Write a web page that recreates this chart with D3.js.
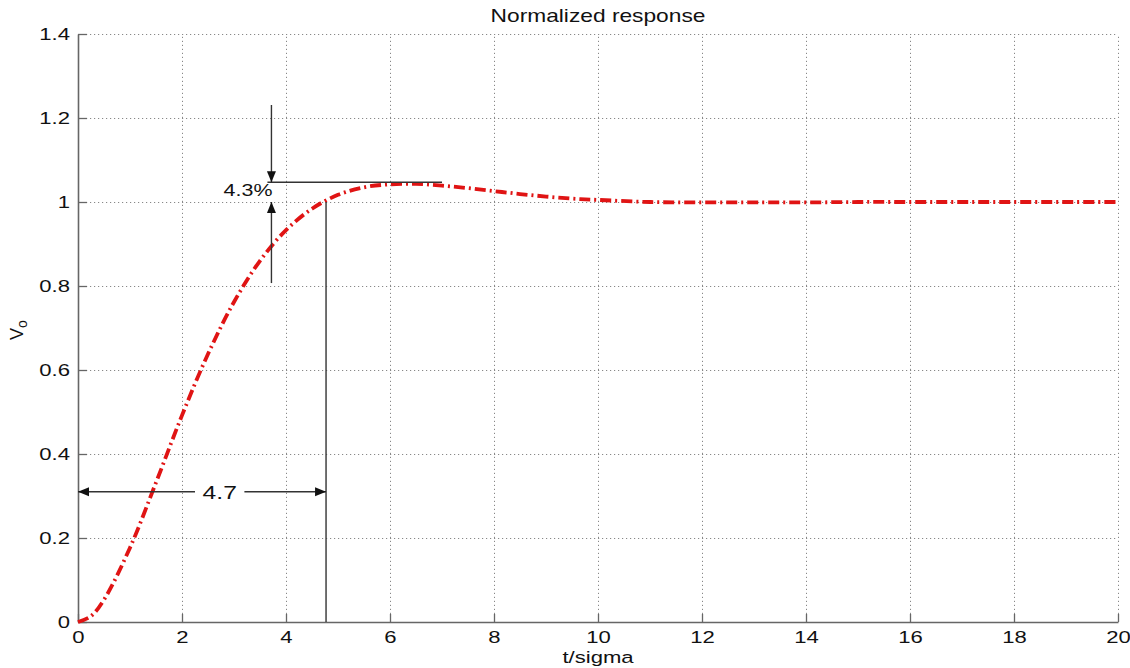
<!DOCTYPE html>
<html>
<head>
<meta charset="utf-8">
<script src="https://cdn.jsdelivr.net/npm/d3@7"></script>
<style>
  body { margin: 0; background: #fff; }
  text { font-family: "Liberation Sans", Arial, sans-serif; fill: #111; }
</style>
</head>
<body>
<svg id="chart" width="1130" height="668"></svg>
<script>
// response curve
const tValues = [0, 0.25, 0.5, 1, 1.5, 2, 2.5, 3, 3.5, 4, 4.5, 5, 5.5, 6, 6.5, 7, 7.5, 8, 8.5, 9, 9.5, 10, 11, 12, 13, 14, 15, 16, 17, 18, 19, 20];
const voValues = [0, 0.014, 0.053, 0.177, 0.332, 0.492, 0.638, 0.762, 0.860, 0.933, 0.984, 1.017, 1.035, 1.042, 1.043, 1.039, 1.033, 1.026, 1.019, 1.013, 1.008, 1.005, 1.000, 0.999, 0.999, 0.999, 1.000, 1.000, 1.000, 1.000, 1.000, 1.000];

const xTicks = [0, 2, 4, 6, 8, 10, 12, 14, 16, 18, 20];
const yTicks = [0, 0.2, 0.4, 0.6, 0.8, 1, 1.2, 1.4];

// annotations (data units)
const riseTime = 4.77, riseLabel = "4.7", riseY = 0.31, riseGap = [2.25, 3.2];
const overshootLevel = 1.047, overshootFrom = 3.72, overshootTo = 7.0, overshootLabel = "4.3%";
const downArrowFrom = 1.231, upArrowFrom = 0.807;

const margin = {top: 34, right: 12, bottom: 46, left: 78};
const W = 1130, H = 668;
const width = W - margin.left - margin.right;
const height = H - margin.top - margin.bottom;
const stretch = "scale(1.3,1)";

const svg = d3.select("#chart");
const g = svg.append("g").attr("transform", `translate(${margin.left},${margin.top})`);

const x = d3.scaleLinear().domain([0, 20]).range([0, width]);
const y = d3.scaleLinear().domain([0, 1.4]).range([height, 0]);

//grid
g.append("g")
  .attr("transform", `translate(0,${height})`)
  .call(d3.axisBottom(x).tickValues(xTicks).tickSize(-height).tickFormat(""))
  .call(s => s.select(".domain").remove())
  .selectAll("line").attr("stroke", "#888").attr("stroke-dasharray", "1.2,2.8");

g.append("g")
  .call(d3.axisLeft(y).tickValues(yTicks).tickSize(-width).tickFormat(""))
  .call(s => s.select(".domain").remove())
  .selectAll("line").attr("stroke", "#888").attr("stroke-dasharray", "1.2,2.8");

//axes
const xAxis = g.append("g")
  .attr("transform", `translate(0,${height})`)
  .call(d3.axisBottom(x).tickValues(xTicks).tickSizeInner(-8).tickSizeOuter(0).tickPadding(9).tickFormat(d3.format("d")));
const yAxis = g.append("g")
  .call(d3.axisLeft(y).tickValues(yTicks).tickSizeInner(-9).tickSizeOuter(0).tickPadding(8).tickFormat(d => d));

[xAxis, yAxis].forEach(a => {
  a.select(".domain").attr("stroke", "#666").attr("stroke-width", 1.6);
  a.selectAll(".tick line").attr("stroke", "#666").attr("stroke-width", 1.3);
  a.selectAll("text").attr("font-size", 17).attr("fill", "#111")
    .attr("font-family", "Liberation Sans, Arial, sans-serif");
});
xAxis.selectAll("text").attr("transform", stretch);
yAxis.selectAll("text").attr("x", -8 / 1.3).attr("transform", stretch);

//titles
function stretchedText(px, py, str, size, anchor) {
  return svg.append("g").attr("transform", `translate(${px},${py}) ${stretch}`)
    .append("text").attr("text-anchor", anchor).attr("font-size", size).text(str);
}
stretchedText(margin.left + width / 2, 22, "Normalized response", 17.5, "middle");
stretchedText(margin.left + width / 2, 663, "t/sigma", 17, "middle");

const ylab = svg.append("text")
  .attr("transform", "translate(23,330) rotate(-90)")
  .attr("text-anchor", "middle").attr("font-size", 18);
ylab.append("tspan").text("V");
ylab.append("tspan").attr("font-size", 14).attr("dy", 4).text("o");

//curve
const data = tValues.map((t, i) => ({t: t, v: voValues[i]}));
const line = d3.line().x(d => x(d.t)).y(d => y(d.v)).curve(d3.curveCatmullRom);
g.append("path").datum(data)
  .attr("d", line)
  .attr("fill", "none")
  .attr("stroke", "#e01414")
  .attr("stroke-width", 3.8)
  .attr("stroke-dasharray", "11,4,2,4");

//annotations
const ink = "#333";
function arrowHead(px, py, dir) {
  // dir: direction the tip points
  const L = 11, w = 4.5;
  let pts;
  if (dir === "left") pts = [[px, py], [px + L, py - w], [px + L, py + w]];
  if (dir === "right") pts = [[px, py], [px - L, py - w], [px - L, py + w]];
  if (dir === "down") pts = [[px, py], [px - w, py - L], [px + w, py - L]];
  if (dir === "up") pts = [[px, py], [px - w, py + L], [px + w, py + L]];
  g.append("path").attr("d", "M" + pts.join("L") + "Z").attr("fill", "#111");
}
function seg(x1, y1, x2, y2) {
  g.append("line").attr("x1", x1).attr("y1", y1).attr("x2", x2).attr("y2", y2)
    .attr("stroke", ink).attr("stroke-width", 1.4);
}

// rise time
seg(x(riseTime), y(1), x(riseTime), y(0));
seg(x(0), y(riseY), x(riseGap[0]), y(riseY));
seg(x(riseGap[1]), y(riseY), x(riseTime), y(riseY));
arrowHead(x(0), y(riseY), "left");
arrowHead(x(riseTime), y(riseY), "right");
g.append("g").attr("transform", `translate(${x((riseGap[0] + riseGap[1]) / 2)},${y(riseY) + 7}) ${stretch}`)
  .append("text").attr("text-anchor", "middle").attr("font-size", 19).text(riseLabel);

// overshoot
seg(x(overshootFrom) - 4, y(overshootLevel), x(overshootTo), y(overshootLevel));
seg(x(overshootFrom), y(downArrowFrom), x(overshootFrom), y(overshootLevel));
seg(x(overshootFrom), y(upArrowFrom), x(overshootFrom), y(1));
arrowHead(x(overshootFrom), y(overshootLevel), "down");
arrowHead(x(overshootFrom), y(1), "up");
g.append("g").attr("transform", `translate(${x(overshootFrom) + 1},${y(overshootLevel) + 14}) ${stretch}`)
  .append("text").attr("text-anchor", "end").attr("font-size", 16.5).text(overshootLabel);
</script>
</body>
</html>
